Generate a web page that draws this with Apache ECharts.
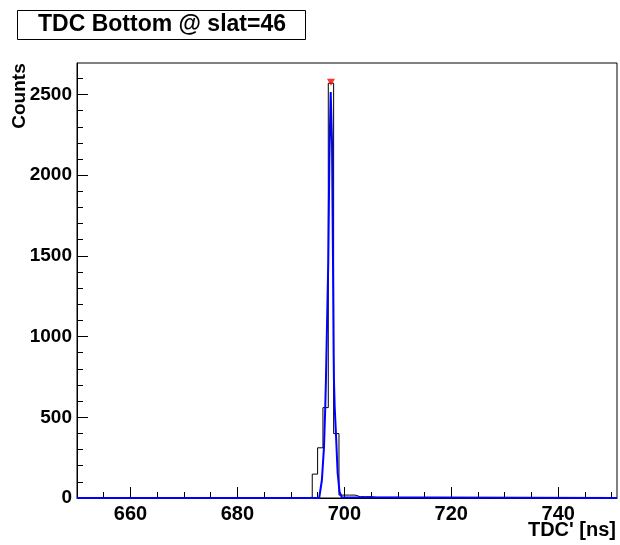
<!DOCTYPE html>
<html>
<head>
<meta charset="utf-8">
<script src="https://cdn.jsdelivr.net/npm/echarts@6/dist/echarts.min.js"></script>
<style>html,body{margin:0;padding:0;background:#fff;}#c{width:620px;height:545px;}</style>
</head>
<body>
<div id="c"></div>
<script>
// ---- data ----
const titleText = "TDC Bottom @ slat=46";
const xTitle = "TDC' [ns]";
const yTitle = "Counts";
const xMin = 650, xMax = 751;
const yMin = 0, yMax = 2695;
const xMajorTicks = [660, 680, 700, 720, 740];
const yMajorTicks = [0, 500, 1000, 1500, 2000, 2500];
// histogram: 1 ns bins, lower edges starting at binStart
const binStart = 690;
const binCounts = [0, 1, 2, 4, 148, 311, 560, 2570, 399, 18, 18, 18, 8, 8, 8, 4, 4, 4, 4, 4, 1, 0];
// fitted curve, points
const fitX = [650, 695.3, 695.5, 695.8, 696.2, 696.43, 696.56, 697.0, 697.2, 697.45, 697.7, 697.88, 698.0, 698.06, 698.2, 698.43, 698.75, 699.1, 699.5, 699.7, 751];
const fitY = [0, 0, 5, 110, 317, 560, 730, 1470, 2100, 2515, 2200, 1470, 900, 730, 560, 400, 155, 40, 5, 0, 0];
// peak marker
const peakX = [697.5];
const peakY = [2575];

// ---- build series ----
const histData = [];
for (let b = xMin; b < xMax; b++) {
  const i = b - binStart;
  const v = (i >= 0 && i < binCounts.length) ? binCounts[i] : 0;
  histData.push([b, v]);
}
histData.push([xMax, histData[histData.length - 1][1]]);
const fitData = fitX.map((x, i) => [x, fitY[i]]);
const peakData = peakX.map((x, i) => [x, peakY[i]]);

const xMinor = [];
for (let v = xMin + 5; v < xMax; v += 5) if (xMajorTicks.indexOf(v) < 0) xMinor.push(v);
const yMinor = [];
for (let v = 100; v < yMax; v += 100) if (yMajorTicks.indexOf(v) < 0) yMinor.push(v);

const font = 'Liberation Sans, Arial, Helvetica, sans-serif';
const plain = v => String(v);
const chart = echarts.init(document.getElementById('c'), null, {renderer: 'canvas'});
chart.setOption({
  animation: false,
  backgroundColor: '#fff',
  grid: {left: 77, top: 63, right: 3, bottom: 47, show: true, borderColor: '#000', borderWidth: 1, backgroundColor: 'transparent'},
  xAxis: [{
    type: 'value', min: xMin, max: xMax, position: 'bottom',
    splitLine: {show: false},
    axisLine: {show: true, lineStyle: {color: '#000', width: 1}},
    axisTick: {show: true, inside: true, length: 11, customValues: xMajorTicks, lineStyle: {color: '#000'}},
    axisLabel: {show: true, customValues: xMajorTicks, formatter: plain, margin: 6, color: '#000', fontFamily: font, fontWeight: 'bold', fontSize: 20}
  }, {
    type: 'value', min: xMin, max: xMax, position: 'bottom', offset: 0,
    splitLine: {show: false},
    axisLine: {show: false},
    axisTick: {show: true, inside: true, length: 6, customValues: xMinor, lineStyle: {color: '#000'}},
    axisLabel: {show: false}
  }],
  yAxis: [{
    type: 'value', min: yMin, max: yMax, position: 'left',
    splitLine: {show: false},
    axisLine: {show: true, lineStyle: {color: '#000', width: 1}},
    axisTick: {show: true, inside: true, length: 11, customValues: yMajorTicks, lineStyle: {color: '#000'}},
    axisLabel: {show: true, customValues: yMajorTicks, formatter: plain, margin: 5, color: '#000', fontFamily: font, fontWeight: 'bold', fontSize: 19}
  }, {
    type: 'value', min: yMin, max: yMax, position: 'left', offset: 0,
    splitLine: {show: false},
    axisLine: {show: false},
    axisTick: {show: true, inside: true, length: 6, customValues: yMinor, lineStyle: {color: '#000'}},
    axisLabel: {show: false}
  }],
  series: [{
    type: 'line', data: histData, step: 'end', showSymbol: false, symbol: 'none',
    lineStyle: {color: '#000', width: 1}, z: 2
  }, {
    type: 'line', data: fitData, showSymbol: false, symbol: 'none', smooth: false,
    lineStyle: {color: '#0000ff', width: 2}, z: 3
  }, {
    type: 'scatter', data: peakData, symbol: 'triangle', symbolRotate: 180, symbolSize: [8, 7],
    itemStyle: {color: '#ff0000'}, z: 4
  }],
  graphic: [
    {type: 'rect', shape: {x: 17.5, y: 10.5, width: 288, height: 29}, style: {fill: '#fff', stroke: '#000', lineWidth: 1}, z: 10},
    {type: 'text', x: 162, y: 25, style: {text: titleText, font: 'bold 23px ' + font, fill: '#000', align: 'center', verticalAlign: 'middle'}, z: 11},
    {type: 'text', x: 20, y: 96, rotation: Math.PI / 2, style: {text: yTitle, font: 'bold 19px ' + font, fill: '#000', align: 'center', verticalAlign: 'middle'}, z: 11},
    {type: 'text', x: 616, y: 530, style: {text: xTitle, font: 'bold 20px ' + font, fill: '#000', align: 'right', verticalAlign: 'middle'}, z: 11}
  ]
});
</script>
</body>
</html>
